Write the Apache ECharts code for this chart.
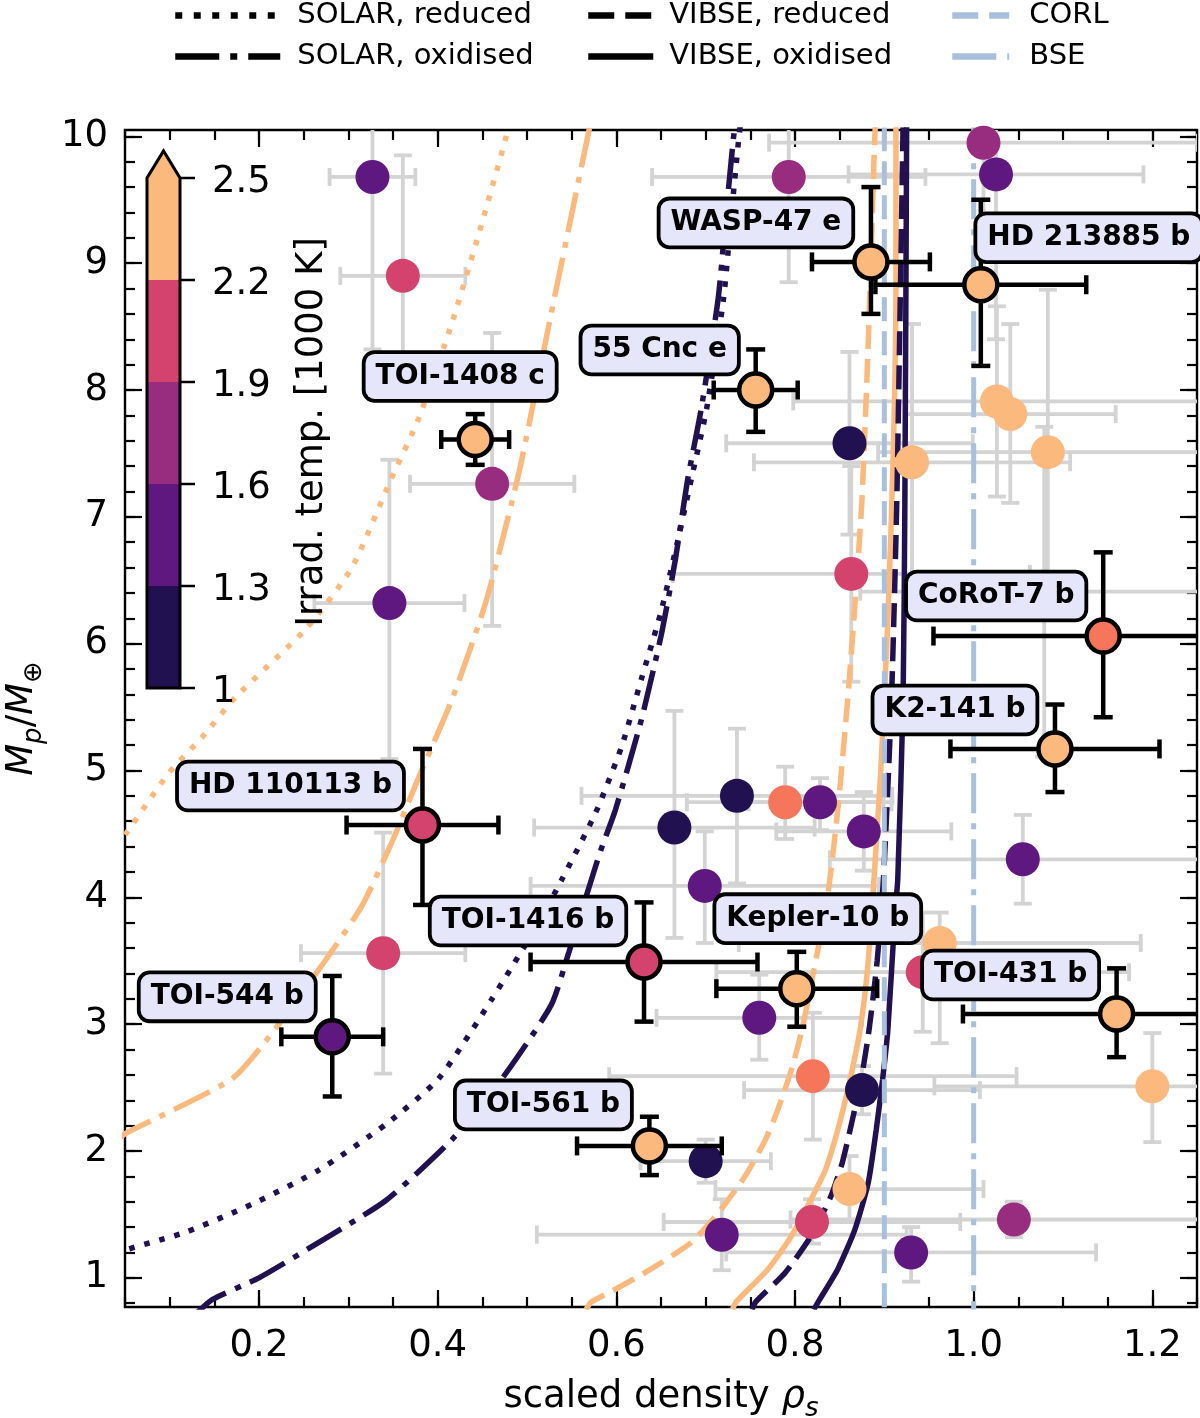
<!DOCTYPE html>
<html>
<head>
<meta charset="utf-8">
<script src="https://cdn.jsdelivr.net/npm/echarts@6/dist/echarts.min.js"></script>
<style>
html, body { margin: 0; padding: 0; background: #fff; }
#chart { width: 1200px; height: 1418px; }
</style>
</head>
<body>
<div id="chart"></div>
<script>
const FONT = 'DejaVu Sans';

// axis ticks
const xMajorTicks = [0.2, 0.4, 0.6, 0.8, 1.0, 1.2];
const yMajorTicks = [1, 2, 3, 4, 5, 6, 7, 8, 9, 10];

// background planet sample: scaled density, mass, +-density err, mass err below / above, irrad. temp [1000 K]
const sampleX = [0.327, 0.361, 0.461, 0.346, 0.339, 0.665, 0.735, 0.789, 0.828, 0.877, 0.699, 1.055,
  0.962, 0.943, 0.760, 0.820, 0.875, 1.200, 0.700, 0.861, 0.819, 0.718, 0.930, 1.045,
  0.863, 0.861, 0.931, 1.026, 1.041, 1.083, 0.793, 1.011, 1.025, 1.079];
const sampleY = [9.68, 8.90, 7.26, 6.32, 3.56, 4.55, 4.80, 4.75, 4.75, 4.52, 4.09, 4.30,
  3.64, 3.41, 3.05, 2.59, 2.48, 2.51, 1.92, 1.70, 1.44, 1.34, 1.20, 1.46,
  6.55, 7.58, 7.43, 7.91, 7.81, 7.51, 9.68, 9.95, 9.70, 6.41];
const sampleXErr = [0.048, 0.070, 0.092, 0.084, 0.092, 0.157, 0.174, 0.110, 0.080, 0.098, 0.195, 0.216,
  0.225, 0.231, 0.115, 0.228, 0.132, 0.244, 0.073, 0.150, 0.166, 0.207, 0.207, 0.250,
  0.200, 0.138, 0.177, 0.228, 0.118, 0.190, 0.153, 0.240, 0.165, 0.206];
const sampleYErrLo = [1.36, 0.95, 1.12, 1.23, 0.95, 0.87, 0.69, 0.29, 0.22, 0.31, 0.45, 0.35,
  0.79, 0.47, 0.33, 0.50, 0.19, 0.44, 0.17, 0.26, 0.17, 0.28, 0.23, 0.14,
  0.85, 0.72, 1.09, 0.75, 0.70, 1.28, 0.83, 0.75, 1.30, 1.30];
const sampleYErrHi = [1.36, 0.95, 1.19, 1.13, 0.95, 0.92, 0.53, 0.28, 0.19, 0.31, 0.43, 0.35,
  0.24, 0.47, 0.34, 0.50, 0.19, 0.42, 0.17, 0.26, 0.18, 0.28, 0.20, 0.14,
  0.85, 0.72, 1.09, 0.75, 0.71, 1.28, 0.83, 0.75, 1.30, 1.30];
const sampleTemp = [1.45, 2.05, 1.75, 1.45, 2.05, 1.15, 1.15, 2.35, 1.45, 1.45, 1.45, 1.45,
  2.7, 2.05, 1.45, 2.35, 1.15, 2.7, 1.15, 2.7, 2.05, 1.45, 1.45, 1.75,
  2.05, 1.15, 2.7, 2.7, 2.7, 2.7, 1.75, 1.75, 1.45, 1.75];

// named planets
const namedPlanets = ['TOI-1408 c', 'WASP-47 e', 'HD 213885 b', '55 Cnc e', 'CoRoT-7 b', 'K2-141 b',
  'HD 110113 b', 'TOI-544 b', 'TOI-1416 b', 'Kepler-10 b', 'TOI-431 b', 'TOI-561 b'];
const namedX = [0.442, 0.885, 1.008, 0.756, 1.145, 1.091, 0.383, 0.282, 0.631, 0.802, 1.160, 0.637];
const namedY = [7.61, 9.01, 8.83, 8.00, 6.06, 5.17, 4.57, 2.90, 3.49, 3.28, 3.08, 2.04];
const namedXErr = [0.038, 0.066, 0.118, 0.047, 0.190, 0.117, 0.085, 0.057, 0.127, 0.090, 0.172, 0.081];
const namedYErrLo = [0.20, 0.41, 0.64, 0.33, 0.64, 0.34, 0.63, 0.47, 0.47, 0.30, 0.34, 0.23];
const namedYErrHi = [0.20, 0.59, 0.67, 0.32, 0.66, 0.35, 0.60, 0.48, 0.47, 0.29, 0.36, 0.23];
const namedTemp = [2.7, 2.7, 2.7, 2.7, 2.35, 2.7, 2.05, 1.45, 2.05, 2.7, 2.7, 2.7];
// label box offset from its planet, px
const namedLabelOffset = [[-15, -63], [-115, -39], [108, -47], [-96, -40], [-107, -40], [-100, -39],
  [-132, -39], [-105, -40], [-116, -41], [21, -70], [-106, -39], [-106, -41]];

// model curves [rho_s, Mp]
const solarRedHot = [[0.040, 4.39], [0.051, 4.50], [0.099, 4.98], [0.136, 5.26], [0.174, 5.58], [0.253, 6.12],
  [0.304, 6.60], [0.348, 7.30], [0.379, 7.78], [0.416, 8.53], [0.446, 9.23], [0.476, 9.98], [0.480, 10.10]];
const solarOxHot = [[0.040, 2.08], [0.051, 2.14], [0.170, 2.57], [0.219, 2.97], [0.275, 3.51], [0.315, 3.93],
  [0.349, 4.44], [0.379, 4.95], [0.416, 5.56], [0.454, 6.33], [0.491, 7.35], [0.527, 8.60], [0.568, 10.00], [0.571, 10.10]];
const solarRedCool = [[0.040, 1.17], [0.051, 1.22], [0.118, 1.36], [0.192, 1.58], [0.267, 1.85], [0.342, 2.21],
  [0.401, 2.57], [0.460, 3.19], [0.513, 3.80], [0.539, 4.14], [0.577, 4.67], [0.606, 5.19], [0.628, 5.72],
  [0.650, 6.25], [0.669, 6.82], [0.684, 7.30], [0.701, 7.85], [0.720, 8.72], [0.729, 9.40], [0.737, 9.98], [0.739, 10.10]];
const solarOxCool = [[0.127, 0.70], [0.148, 0.83], [0.200, 1.00], [0.267, 1.28], [0.342, 1.61], [0.416, 2.09],
  [0.472, 2.57], [0.527, 3.15], [0.547, 3.57], [0.565, 3.98], [0.583, 4.38], [0.599, 4.69], [0.628, 5.40],
  [0.650, 6.06], [0.666, 6.66], [0.680, 7.30], [0.695, 7.85], [0.714, 8.72], [0.723, 9.40], [0.731, 9.98], [0.733, 10.10]];
const vibseRedHot = [[0.566, 0.75], [0.572, 0.81], [0.599, 0.91], [0.639, 1.07], [0.684, 1.28], [0.714, 1.51],
  [0.744, 1.80], [0.767, 2.09], [0.781, 2.33], [0.796, 2.64], [0.808, 2.96], [0.819, 3.35], [0.836, 3.98],
  [0.848, 4.70], [0.859, 5.56], [0.868, 6.40], [0.875, 7.14], [0.882, 8.38], [0.889, 9.94], [0.890, 10.10]];
const vibseOxHot = [[0.730, 0.75], [0.734, 0.81], [0.770, 1.07], [0.796, 1.33], [0.818, 1.62], [0.834, 1.85],
  [0.848, 2.17], [0.859, 2.48], [0.867, 2.74], [0.873, 2.96], [0.880, 3.35], [0.886, 3.88], [0.896, 5.00],
  [0.904, 6.20], [0.910, 7.50], [0.913, 8.80], [0.913, 10.10]];
const vibseRedCool = [[0.752, 0.75], [0.756, 0.81], [0.789, 1.04], [0.818, 1.33], [0.840, 1.64], [0.853, 1.91],
  [0.865, 2.27], [0.874, 2.56], [0.883, 2.96], [0.892, 3.50], [0.899, 4.14], [0.908, 5.56], [0.914, 7.14], [0.921, 10.10]];
const vibseOxCool = [[0.821, 0.75], [0.826, 0.81], [0.848, 1.07], [0.867, 1.38], [0.882, 1.75], [0.891, 2.17],
  [0.898, 2.56], [0.904, 2.96], [0.912, 3.88], [0.915, 4.14], [0.921, 5.56], [0.923, 7.14], [0.925, 10.10]];
const corlDensity = 0.9;
const bseDensity = 1.0;

// colour scale
const tempBounds = [1.3, 1.6, 1.9, 2.2, 2.5];
const pointColors = ['#221150', '#5f187f', '#982d80', '#d3436e', '#f6765c', '#fcb97d'];
const cbTicks = [1.0, 1.3, 1.6, 1.9, 2.2, 2.5];
const cbTickLabels = ['1', '1.3', '1.6', '1.9', '2.2', '2.5'];
const cbColors = ['#221150', '#5f187f', '#982d80', '#d3436e', '#fcb97d'];
const cbOverColor = '#fcb97d';

const HOT = '#fcb97d', COOL = '#221150', REF = '#a8c0dc';
const DOTTED = [5.5, 10], DASHED = [24, 10], DASHDOT = [40, 10, 6, 10];
const LEG_DOTTED = [7, 11.5], LEG_DASHED = [26, 11], LEG_DASHDOT = [44, 11, 7, 11];

function stepList(a, b, s) {
  const out = [];
  for (let v = a; v <= b + 1e-9; v += s) out.push(+v.toFixed(3));
  return out;
}
const xMinorTicks = stepList(0.05, 1.25, 0.05);
const yMinorTicks = stepList(0.8, 10.0, 0.2);

function tempColor(t) {
  let i = 0;
  while (i < tempBounds.length && t >= tempBounds[i]) i++;
  return pointColors[i];
}

const sampleData = sampleX.map((x, i) => [x, sampleY[i], x - sampleXErr[i], x + sampleXErr[i],
  sampleY[i] - sampleYErrLo[i], sampleY[i] + sampleYErrHi[i], sampleTemp[i]]);
const namedData = namedX.map((x, i) => [x, namedY[i], x - namedXErr[i], x + namedXErr[i],
  namedY[i] - namedYErrLo[i], namedY[i] + namedYErrHi[i], namedTemp[i]]);

function errorBars(color, width, cap) {
  return function (params, api) {
    const x = api.value(0), y = api.value(1);
    const l = api.coord([api.value(2), y]), r = api.coord([api.value(3), y]);
    const b = api.coord([x, api.value(4)]), t = api.coord([x, api.value(5)]);
    const c = cap / 2;
    const style = { stroke: color, lineWidth: width, fill: null };
    const seg = (x1, y1, x2, y2) => ({ type: 'line', shape: { x1, y1, x2, y2 }, style });
    return {
      type: 'group',
      children: [
        seg(l[0], l[1], r[0], r[1]),
        seg(l[0], l[1] - c, l[0], l[1] + c),
        seg(r[0], r[1] - c, r[0], r[1] + c),
        seg(b[0], b[1], t[0], t[1]),
        seg(b[0] - c, b[1], b[0] + c, b[1]),
        seg(t[0] - c, t[1], t[0] + c, t[1])
      ]
    };
  };
}

function curve(name, data, color, dash) {
  return {
    type: 'line', name, data, symbol: 'none', showSymbol: false, smooth: 0.2, clip: true, z: 3,
    silent: true, lineStyle: { color, width: 5.5, type: dash, cap: 'butt' }, itemStyle: { color }
  };
}

function refLine(name, x, dash) {
  return {
    type: 'line', name, data: [[x, 0.5], [x, 10.5]], symbol: 'none', clip: true, z: 3, silent: true,
    lineStyle: { color: REF, width: 5, type: dash, cap: 'butt' }, itemStyle: { color: REF }
  };
}

const richName = {
  n: { fontSize: 37, fontFamily: FONT, color: '#000', lineHeight: 50 },
  i: { fontSize: 37, fontFamily: FONT, fontStyle: 'italic', color: '#000', lineHeight: 50 },
  s: { fontSize: 26, fontFamily: FONT, fontStyle: 'italic', color: '#000', verticalAlign: 'bottom' }
};

function xAx(pos, ticks, len, withLabels) {
  const ax = {
    type: 'value', position: pos, min: 0.05, max: 1.25,
    axisLine: { show: false }, splitLine: { show: false },
    axisTick: { show: true, inside: true, length: len, customValues: ticks, lineStyle: { color: '#000', width: 2.2 } },
    axisLabel: { show: false }
  };
  if (withLabels) {
    ax.axisLabel = {
      show: true, customValues: ticks, margin: 21, color: '#000', fontSize: 37, fontFamily: FONT,
      formatter: v => v.toFixed(1)
    };
    ax.name = '{n|scaled density }{i|ρ}{s|s}';
    ax.nameLocation = 'middle';
    ax.nameGap = 65;
    ax.nameTextStyle = { color: '#000', fontFamily: FONT, fontSize: 37, rich: richName };
  }
  return ax;
}

function yAx(pos, ticks, len, withLabels) {
  const ax = {
    type: 'value', position: pos, min: 0.77, max: 10.05,
    axisLine: { show: false }, splitLine: { show: false },
    axisTick: { show: true, inside: true, length: len, customValues: ticks, lineStyle: { color: '#000', width: 2.2 } },
    axisLabel: { show: false }
  };
  if (withLabels) {
    ax.axisLabel = {
      show: true, customValues: ticks, margin: 17, color: '#000', fontSize: 37, fontFamily: FONT
    };
    ax.name = '{i|M}{s|p}{n|/}{i|M}{s|⊕}';
    ax.nameLocation = 'middle';
    ax.nameRotate = 90;
    ax.nameGap = 78;
    ax.nameTextStyle = { color: '#000', fontFamily: FONT, fontSize: 37, rich: richName };
  }
  return ax;
}

// colour bar drawn inside the axes
const cbBox = { x: 147, w: 33, yLow: 688, yHigh: 178, tip: 151 };
function cbY(v) {
  const v0 = cbTicks[0], v1 = cbTicks[cbTicks.length - 1];
  return cbBox.yLow - (v - v0) / (v1 - v0) * (cbBox.yLow - cbBox.yHigh);
}
const cbElements = [];
for (let i = 0; i < cbColors.length; i++) {
  const yTop = cbY(cbTicks[i + 1]), yBot = cbY(cbTicks[i]);
  cbElements.push({ type: 'rect', z: 100, shape: { x: cbBox.x, y: yTop, width: cbBox.w, height: yBot - yTop }, style: { fill: cbColors[i] } });
}
cbElements.push({
  type: 'polygon', z: 100,
  shape: { points: [[cbBox.x, cbBox.yHigh], [cbBox.x + cbBox.w / 2, cbBox.tip], [cbBox.x + cbBox.w, cbBox.yHigh]] },
  style: { fill: cbOverColor }
});
cbElements.push({
  type: 'polygon', z: 101,
  shape: { points: [[cbBox.x, cbBox.yLow], [cbBox.x, cbBox.yHigh], [cbBox.x + cbBox.w / 2, cbBox.tip],
    [cbBox.x + cbBox.w, cbBox.yHigh], [cbBox.x + cbBox.w, cbBox.yLow]] },
  style: { fill: 'none', stroke: '#000', lineWidth: 3 }
});
cbTicks.forEach((v, i) => {
  const y = cbY(v);
  cbElements.push({ type: 'line', z: 101, shape: { x1: cbBox.x + cbBox.w, y1: y, x2: cbBox.x + cbBox.w + 15, y2: y }, style: { stroke: '#000', lineWidth: 2.5 } });
  cbElements.push({
    type: 'text', z: 101, x: 212, y: y + 4,
    style: { text: cbTickLabels[i], font: '37px "DejaVu Sans"', fill: '#000', textAlign: 'left', textVerticalAlign: 'middle', align: 'left', verticalAlign: 'middle' }
  });
});
cbElements.push({
  type: 'text', z: 101, x: 312, y: 432, rotation: Math.PI / 2,
  style: { text: 'Irrad. temp. [1000 K]', font: '37px "DejaVu Sans"', fill: '#000', textAlign: 'center', textVerticalAlign: 'middle', align: 'center', verticalAlign: 'middle' }
});

// legend: three columns, black handles
const legendColumns = [['SOLAR, reduced', 'SOLAR, oxidised'], ['VIBSE, reduced', 'VIBSE, oxidised'], ['CORL', 'BSE']];
const legendDash = { 'SOLAR, reduced': LEG_DOTTED, 'SOLAR, oxidised': LEG_DASHDOT, 'VIBSE, reduced': LEG_DASHED, 'VIBSE, oxidised': 'solid', 'CORL': LEG_DASHED, 'BSE': LEG_DASHDOT };
const legendLeft = [167, 580, 944];
const legendHandle = [105, 65, 57];
const legendTextPad = [12, 11, 15];

const chart = echarts.init(document.getElementById('chart'));
chart.setOption({
  animation: false,
  textStyle: { fontFamily: FONT },
  grid: {
    left: 125, right: 3, top: 130, bottom: 111, outerBoundsMode: 'none', containLabel: false,
    show: true, borderColor: '#000', borderWidth: 2.4, backgroundColor: 'transparent'
  },
  legend: legendColumns.map((col, k) => ({
    orient: 'vertical', left: legendLeft[k], top: -6, itemWidth: legendHandle[k], itemHeight: 16, itemGap: 8,
    selectedMode: false,
    textStyle: { fontSize: 29, fontFamily: FONT, color: '#000', lineHeight: 33, padding: [0, 0, 0, legendTextPad[k]] },
    data: col.map(name => ({
      name,
      itemStyle: { opacity: 0 },
      lineStyle: { color: k === 2 ? REF : '#000', width: 6.5, type: legendDash[name], cap: 'butt', opacity: 1 }
    }))
  })),
  xAxis: [
    xAx('bottom', xMajorTicks, 17, true),
    xAx('bottom', xMinorTicks, 10, false),
    xAx('top', xMajorTicks, 17, false),
    xAx('top', xMinorTicks, 10, false)
  ],
  yAxis: [
    yAx('left', yMajorTicks, 17, true),
    yAx('left', yMinorTicks, 10, false),
    yAx('right', yMajorTicks, 17, false),
    yAx('right', yMinorTicks, 10, false)
  ],
  graphic: { elements: cbElements },
  series: [
    {
      type: 'custom', name: 'sample errors', data: sampleData, encode: { x: 0, y: 1 }, clip: true, z: 1, silent: true,
      renderItem: errorBars('#d3d3d3', 3.8, 18)
    },
    curve('SOLAR, reduced', solarRedHot, HOT, DOTTED),
    curve('SOLAR, oxidised', solarOxHot, HOT, DASHDOT),
    curve('VIBSE, reduced', vibseRedHot, HOT, DASHED),
    curve('VIBSE, oxidised', vibseOxHot, HOT, 'solid'),
    curve('SOLAR, reduced', solarRedCool, COOL, DOTTED),
    curve('SOLAR, oxidised', solarOxCool, COOL, DASHDOT),
    curve('VIBSE, reduced', vibseRedCool, COOL, DASHED),
    curve('VIBSE, oxidised', vibseOxCool, COOL, 'solid'),
    refLine('CORL', corlDensity, DASHED),
    refLine('BSE', bseDensity, DASHDOT),
    {
      type: 'scatter', name: 'sample', data: sampleData, encode: { x: 0, y: 1 }, symbolSize: 34, z: 5, silent: true,
      itemStyle: { color: p => tempColor(p.value[6]), opacity: 1 }
    },
    {
      type: 'custom', name: 'named errors', data: namedData, encode: { x: 0, y: 1 }, clip: true, z: 6, silent: true,
      renderItem: errorBars('#000', 4.5, 19)
    },
    {
      type: 'scatter', name: 'named', data: namedData, encode: { x: 0, y: 1 }, symbolSize: 33, z: 7, silent: true,
      itemStyle: { color: p => tempColor(p.value[6]), borderColor: '#000', borderWidth: 4.5, opacity: 1 }
    },
    {
      type: 'scatter', name: 'labels', z: 10, symbolSize: 1, silent: true,
      itemStyle: { color: 'rgba(0,0,0,0)', opacity: 1 },
      data: namedX.map((x, i) => ({ value: [x, namedY[i]], name: namedPlanets[i], label: { offset: namedLabelOffset[i] } })),
      label: {
        show: true, position: 'inside', formatter: '{b}', color: '#000', fontFamily: FONT, fontWeight: 'bold',
        fontSize: 28, lineHeight: 34, backgroundColor: '#e6e6fa', borderColor: '#000', borderWidth: 3.8,
        borderRadius: 9, padding: [6, 10, 5, 10], textBorderWidth: 0, textBorderColor: 'transparent', opacity: 1
      }
    }
  ]
});
</script>
</body>
</html>
